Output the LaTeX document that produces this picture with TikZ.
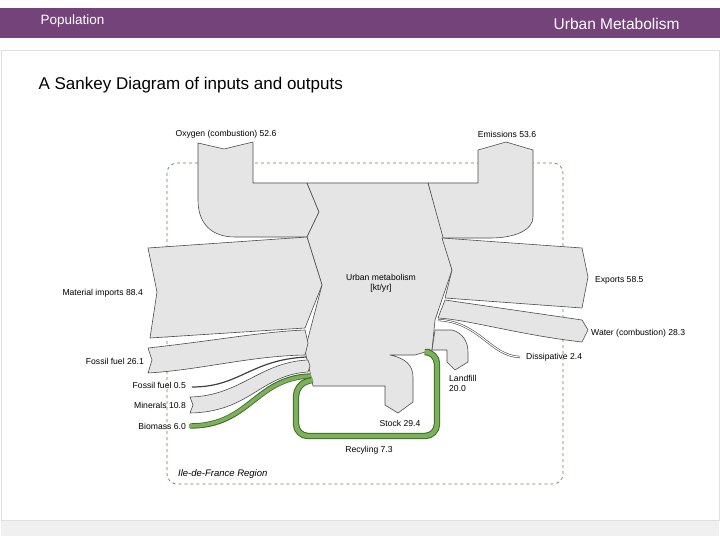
\documentclass[tikz,border=0pt]{standalone}
\usepackage{fontspec}
\setmainfont{Liberation Sans}
\begin{document}
\begin{tikzpicture}[x=1pt,y=-1pt,
  flow/.style={fill=black!10,draw=black!70,line width=0.6pt,line join=round},
  lab/.style={font=\fontsize{8.6}{10}\selectfont,inner sep=1pt}]
\useasboundingbox (0,0) rectangle (720,540);
\definecolor{hdr}{HTML}{74437A}
\definecolor{grn}{HTML}{7CB05A}
\definecolor{dgrn}{HTML}{3E6B2A}
\fill[hdr] (0,8) rectangle (720,38);
\draw[black!12] (1,50) rectangle (719,520);
\fill[black!6] (1,521) rectangle (719,536);
\node[anchor=west,text=white,font=\fontsize{13.5}{15}\selectfont] (t1) at (37,21) {Population};
\node[anchor=east,text=white,font=\fontsize{15.5}{17}\selectfont] (t2) at (683,24) {Urban Metabolism};
\node[anchor=west,font=\fontsize{17}{19}\selectfont] (t3) at (35,85) {A Sankey Diagram of inputs and outputs};
% region
\draw[dashed,draw=black!30!green!35!gray,line width=0.7pt,rounded corners=10pt] (167,163) rectangle (563,484);
% oxygen
\path[flow] (198,143) -- (224,149) -- (253,142) -- (253,183) -- (307,183) -- (319,212) -- (307,237) -- (235,237) .. controls (210,237) and (198,222) .. (198,200) -- cycle;
% emissions
\path[flow] (478,150) -- (506,142) -- (533,150) -- (533,217) .. controls (533,230) and (515,238) .. (490,238) -- (442,238) -- (428,183) -- (478,183) -- cycle;
% central
\path[flow] (307,183) -- (428,183) -- (452,270) -- (435,320) -- (432,350) -- (415,355) -- (390,355) .. controls (405,358) and (413,365) .. (413,377) -- (413,402) -- (398,413) -- (385,405) -- (385,386) -- (313,386) -- (310,372) -- (307,360) -- (305,350) -- (322,285) -- (307,237) -- (319,212) -- cycle;
% material imports
\path[flow] (148,248) -- (307,237) -- (322,285) -- (305,328) -- (150,338) -- (157,292) -- cycle;
% exports
\path[flow] (442,238) -- (582,248) -- (588,277) -- (582,308) -- (445,298) -- (452,270) -- cycle;
% water
\path[flow] (445,300) -- (582,320) -- (588,330) -- (582,342) .. controls (520,335) and (470,320) .. (438,318) -- cycle;
% dissipative
\draw[black!70,line width=2.2pt] (438,320) .. controls (480,322) and (490,356) .. (520,357);
\draw[white,line width=1pt] (438,320) .. controls (480,322) and (490,356) .. (520,357);
% landfill
\path[flow] (435,330) -- (452,330) .. controls (463,333) and (468,342) .. (468,352) -- (468,362) -- (455,370) -- (447,362) -- (447,350) -- (432,350) -- cycle;
% fossil fuel 26.1
\path[flow] (148,348) .. controls (220,340) and (260,332) .. (305,330) -- (308,343) -- (305,355) .. controls (250,356) and (200,370) .. (148,373) -- (152,360) -- cycle;
% fossil 0.5
\draw[black!75,line width=1.2pt] (192,387) .. controls (240,387) and (250,360) .. (306,357);
% minerals
\path[flow] (190,397) .. controls (240,396) and (260,362) .. (308,360) -- (310,366) -- (308,372) .. controls (260,375) and (250,412) .. (190,413) -- (193,405) -- cycle;
% biomass
\draw[dgrn,line width=5.4pt] (190,426) .. controls (250,426) and (255,378) .. (310,376);
\draw[grn,line width=3.6pt] (189,426) .. controls (250,426) and (255,378) .. (311,376);
% recycling
\draw[dgrn,line width=6.4pt,rounded corners=12pt] (430,352) -- (437,352) -- (437,436) -- (296,436) -- (296,384) -- (312,380);
\draw[grn,line width=4.4pt,rounded corners=12pt] (429,352) -- (437,352) -- (437,436) -- (296,436) -- (296,384) -- (313,380);
% labels
\node[lab] (o) at (226,134) {Oxygen (combustion) 52.6};
\node[lab] (e) at (507,134) {Emissions 53.6};
\node[lab,align=center] (u) at (381,283) {Urban metabolism\\{}[kt/yr]};
\node[lab,anchor=east] (mi) at (144,293) {Material imports 88.4};
\node[lab,anchor=west] (ex) at (594,280) {Exports 58.5};
\node[lab,anchor=west] (w) at (590,333) {Water (combustion) 28.3};
\node[lab,anchor=west] (d) at (525,357) {Dissipative 2.4};
\node[lab,anchor=east] (f1) at (145,361) {Fossil fuel 26.1};
\node[lab,anchor=east] (f2) at (187,385) {Fossil fuel 0.5};
\node[lab,anchor=east] (mn) at (187,405) {Minerals 10.8};
\node[lab,anchor=east] (bm) at (187,426) {Biomass 6.0};
\node[lab,anchor=west,align=left] (lf) at (448,383) {Landfill\\20.0};
\node[lab] (st) at (400,423) {Stock 29.4};
\node[lab] (rc) at (369,450) {Recyling 7.3};
\node[lab,anchor=west,font=\fontsize{9.5}{10}\selectfont\itshape] (ifr) at (177,474) {Ile-de-France Region};
\end{tikzpicture}
\end{document}
